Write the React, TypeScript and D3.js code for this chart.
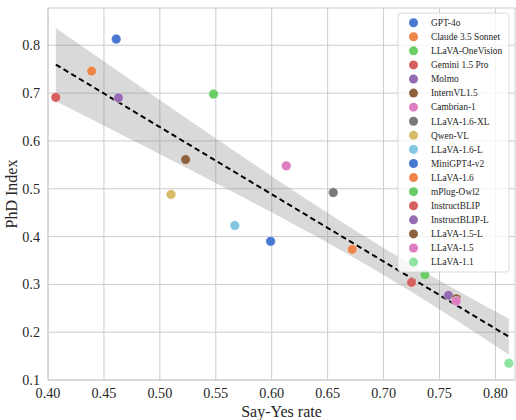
import React from 'react';
import * as d3 from 'd3';

// model names, in legend order
const models = [
	'GPT-4o',
	'Claude 3.5 Sonnet',
	'LLaVA-OneVision',
	'Gemini 1.5 Pro',
	'Molmo',
	'InternVL1.5',
	'Cambrian-1',
	'LLaVA-1.6-XL',
	'Qwen-VL',
	'LLaVA-1.6-L',
	'MiniGPT4-v2',
	'LLaVA-1.6',
	'mPlug-Owl2',
	'InstructBLIP',
	'InstructBLIP-L',
	'LLaVA-1.5-L',
	'LLaVA-1.5',
	'LLaVA-1.1',
];

const sayYes = [
	0.461, 0.439, 0.548, 0.407, 0.463, 0.523, 0.613, 0.655, 0.51, 0.567, 0.599, 0.672, 0.737, 0.725,
	0.758, 0.765, 0.765, 0.812,
];

const phdIndex = [
	0.813, 0.746, 0.698, 0.691, 0.69, 0.561, 0.548, 0.492, 0.488, 0.423, 0.39, 0.373, 0.32, 0.304,
	0.277, 0.27, 0.265, 0.135,
];

// seaborn "muted", last one swapped for a pale green
const colors = [
	'#4878D0', '#EE854A', '#6ACC64', '#D65F5F', '#956CB4', '#8C613C', '#DC7EC0', '#797979',
	'#D5BB67', '#82C6E2', '#4878D0', '#EE854A', '#6ACC64', '#D65F5F', '#956CB4', '#8C613C',
	'#DC7EC0', '#8DE5A1',
];

const xTicks = [0.4, 0.45, 0.5, 0.55, 0.6, 0.65, 0.7, 0.75, 0.8];
const yTicks = [0.1, 0.2, 0.3, 0.4, 0.5, 0.6, 0.7, 0.8];

const W = 516;
const H = 420;
const M = { left: 48, right: 515, top: 8, bottom: 380 };
const FONT = '"Liberation Serif", "Times New Roman", serif';

const App: React.FC = () => {
	const x = d3.scaleLinear().domain([0.4, 0.8175]).range([M.left, M.right]);
	const y = d3.scaleLinear().domain([0.1, 0.878]).range([M.bottom, M.top]);

	// least squares fit, band from a robust (sandwich) covariance,
	// which behaves like the bootstrap band seaborn draws
	const n = sayYes.length;
	const xm = d3.mean(sayYes)!;
	const ym = d3.mean(phdIndex)!;
	const suu = d3.sum(sayYes, (v) => (v - xm) ** 2);
	const sxy = d3.sum(sayYes, (v, i) => (v - xm) * (phdIndex[i] - ym));
	const slope = sxy / suu;
	const icpt = ym - slope * xm;
	const e2 = sayYes.map((v, i) => (phdIndex[i] - (icpt + slope * v)) ** 2);
	const adj = n / (n - 2);
	const v00 = (adj * d3.sum(e2)) / (n * n);
	const v01 = (adj * d3.sum(e2, (e, i) => e * (sayYes[i] - xm))) / (n * suu);
	const v11 = (adj * d3.sum(e2, (e, i) => e * (sayYes[i] - xm) ** 2)) / (suu * suu);
	const z = 1.96;
	const [x0, x1] = d3.extent(sayYes) as [number, number];
	const grid = d3.range(0, 101).map((k) => x0 + ((x1 - x0) * k) / 100);
	const band = grid.map((v) => {
		const u = v - xm;
		const fit = icpt + slope * v;
		const half = z * Math.sqrt(Math.max(0, v00 + 2 * u * v01 + u * u * v11));
		return { v, lo: fit - half, hi: fit + half };
	});

	const area = d3
		.area<{ v: number; lo: number; hi: number }>()
		.x((d) => x(d.v))
		.y0((d) => y(d.lo))
		.y1((d) => y(d.hi));

	const rowH = 14.08;

	return (
		<svg width={W} height={H} style={{ position: 'absolute', left: 0, top: 0 }} fontFamily={FONT}>
			<rect x={0} y={0} width={W} height={H} fill='#fff' />
			{/* grid */}
			{xTicks.map((v) => (
				<line key={'gx' + v} x1={x(v)} x2={x(v)} y1={M.top} y2={M.bottom} stroke='#cccccc' strokeWidth={1} />
			))}
			{yTicks.map((v) => (
				<line key={'gy' + v} x1={M.left} x2={M.right} y1={y(v)} y2={y(v)} stroke='#cccccc' strokeWidth={1} />
			))}
			<rect
				x={M.left}
				y={M.top}
				width={M.right - M.left}
				height={M.bottom - M.top}
				fill='none'
				stroke='#cccccc'
				strokeWidth={1}
			/>

			{/* confidence band and fit */}
			<path d={area(band)!} fill='#808080' fillOpacity={0.3} />
			<line
				x1={x(x0)}
				y1={y(icpt + slope * x0)}
				x2={x(x1)}
				y2={y(icpt + slope * x1)}
				stroke='#000'
				strokeWidth={2}
				strokeDasharray='5.5 3.5'
			/>

			{/* points */}
			{models.map((m, i) => (
				<circle
					key={m}
					cx={x(sayYes[i])}
					cy={y(phdIndex[i])}
					r={4.8}
					fill={colors[i]}
					stroke='#fff'
					strokeWidth={0.4}
				/>
			))}

			{/* tick labels */}
			{xTicks.map((v) => (
				<text key={'tx' + v} x={x(v)} y={398} textAnchor='middle' fontSize={14.2} fill='#262626'>
					{v.toFixed(2)}
				</text>
			))}
			{yTicks.map((v) => (
				<text key={'ty' + v} x={40} y={y(v)} dy='0.35em' textAnchor='end' fontSize={14.2} fill='#262626'>
					{v.toFixed(1)}
				</text>
			))}

			{/* axis titles */}
			<text x={(M.left + M.right) / 2} y={416.5} textAnchor='middle' fontSize={16} fill='#262626'>
				Say-Yes rate
			</text>
			<text
				transform={`translate(16.5,${(M.top + M.bottom) / 2}) rotate(-90)`}
				textAnchor='middle'
				fontSize={16}
				fill='#262626'
			>
				PhD Index
			</text>

			{/* legend */}
			<rect x={398} y={13} width={111} height={259} rx={3} fill='#fff' fillOpacity={0.8} stroke='#d0d0d0' strokeWidth={0.8} />
			{models.map((m, i) => (
				<g key={'lg' + m} transform={`translate(0,${22.7 + i * rowH})`}>
					<circle cx={413.5} cy={0} r={4.5} fill={colors[i]} />
					<text x={431} y={0} dy='0.35em' fontSize={9.4} fill='#262626'>
						{m}
					</text>
				</g>
			))}
		</svg>
	);
};

export default App;
